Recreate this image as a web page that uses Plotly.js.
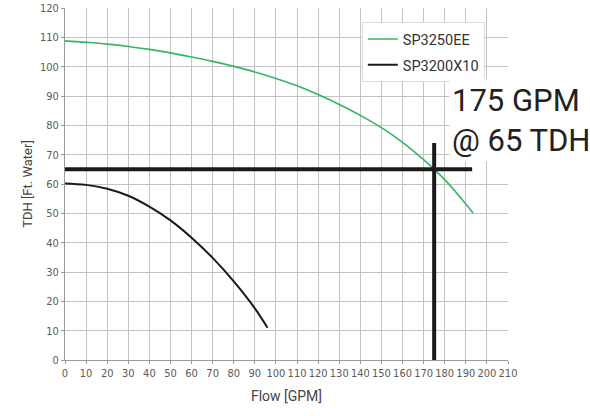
<!DOCTYPE html>
<html>
<head>
<meta charset="utf-8">
<script src="https://cdn.plot.ly/plotly-3.0.1.min.js"></script>
<style>
  html, body { margin: 0; padding: 0; background: #fff; }
  #chart { width: 590px; height: 416px; }
</style>
</head>
<body>
<div id="chart"></div>
<script>
// Pump curve data
const greenName = "SP3250EE";
const greenFlow = [0, 10, 20, 30, 40, 50, 60, 70, 80, 90, 100, 110, 120, 130, 140, 150, 160, 170, 175, 180, 190, 193.5];
const greenHead = [108.8, 108.3, 107.7, 106.9, 105.9, 104.7, 103.3, 101.8, 100.1, 98.2, 96, 93.5, 90.5, 87.1, 83.4, 79.2, 74.2, 68.3, 65, 61.5, 53.2, 50];

const blackName = "SP3200X10";
const blackFlow = [0, 10, 20, 30, 40, 50, 60, 70, 80, 90, 96];
const blackHead = [60.2, 59.7, 58.4, 56, 52.3, 47.6, 41.7, 34.8, 26.8, 17.6, 11];

// Operating point
const opFlow = 175;
const opHead = 65;
const opLineEndFlow = 193;
const opLineTopHead = 74;
const opLabel = ["175 GPM", "@ 65 TDH"];

const xTicks = [0,10,20,30,40,50,60,70,80,90,100,110,120,130,140,150,160,170,180,190,200,210];
const yTicks = [0,10,20,30,40,50,60,70,80,90,100,110,120];

const tickFont = {family: "'Liberation Sans Narrow', 'DejaVu Sans Condensed', Roboto, sans-serif", size: 11, color: '#5a5a5a'};

const traces = [
  {x: greenFlow, y: greenHead, name: greenName, legendgroup: 'g1', mode: 'lines',
   line: {color: '#35b565', width: 1.6, shape: 'spline', smoothing: 1}},
  {x: blackFlow, y: blackHead, name: blackName, legendgroup: 'g2', mode: 'lines',
   line: {color: '#1a1a1a', width: 2, shape: 'spline', smoothing: 1}}
];

const layout = {
  width: 590, height: 416,
  margin: {l: 65, r: 82, t: 8, b: 56},
  paper_bgcolor: '#fff', plot_bgcolor: '#fff',
  showlegend: true,
  legend: {
    x: 0.67, y: 0.96, xanchor: 'left', yanchor: 'top',
    bgcolor: '#fff', bordercolor: '#dcdcdc', borderwidth: 1,
    font: {family: 'Roboto, sans-serif', size: 14.5, color: '#333'},
    itemwidth: 30, tracegroupgap: 4
  },
  xaxis: {
    range: [0, 210], tickvals: xTicks, ticktext: xTicks.map(String),
    showgrid: true, gridcolor: '#c4c4c4', gridwidth: 1,
    zeroline: false, showline: true, linecolor: '#999', linewidth: 1,
    ticks: 'outside', ticklen: 3, tickcolor: '#999',
    tickfont: tickFont,
    title: {text: 'Flow [GPM]', font: {family: 'Roboto, sans-serif', size: 14, color: '#444'}, standoff: 11},
    fixedrange: true
  },
  yaxis: {
    range: [0, 120], tickvals: yTicks, ticktext: yTicks.map(String),
    showgrid: true, gridcolor: '#c4c4c4', gridwidth: 1,
    zeroline: false, showline: true, linecolor: '#999', linewidth: 1,
    ticks: 'outside', ticklen: 3, tickcolor: '#999',
    tickfont: tickFont,
    title: {text: 'TDH [Ft. Water]', font: {family: 'Roboto, sans-serif', size: 13, color: '#444'}, standoff: 4},
    fixedrange: true
  },
  shapes: [
    {type: 'line', xref: 'x', yref: 'y', x0: 0, x1: opLineEndFlow, y0: opHead, y1: opHead,
     line: {color: '#1a1a1a', width: 4}},
    {type: 'line', xref: 'x', yref: 'y', x0: opFlow, x1: opFlow, y0: 0, y1: opLineTopHead,
     line: {color: '#1a1a1a', width: 4}}
  ],
  annotations: [
    {xref: 'x', yref: 'y', x: 182, y: 81.5, xanchor: 'left', yanchor: 'middle',
     text: opLabel.join('<br>'), align: 'left', showarrow: false,
     font: {family: 'Roboto, sans-serif', size: 31, color: '#222'},
     bgcolor: '#fff', borderpad: 2}
  ]
};

Plotly.newPlot('chart', traces, layout, {displayModeBar: false, staticPlot: true});
</script>
</body>
</html>
